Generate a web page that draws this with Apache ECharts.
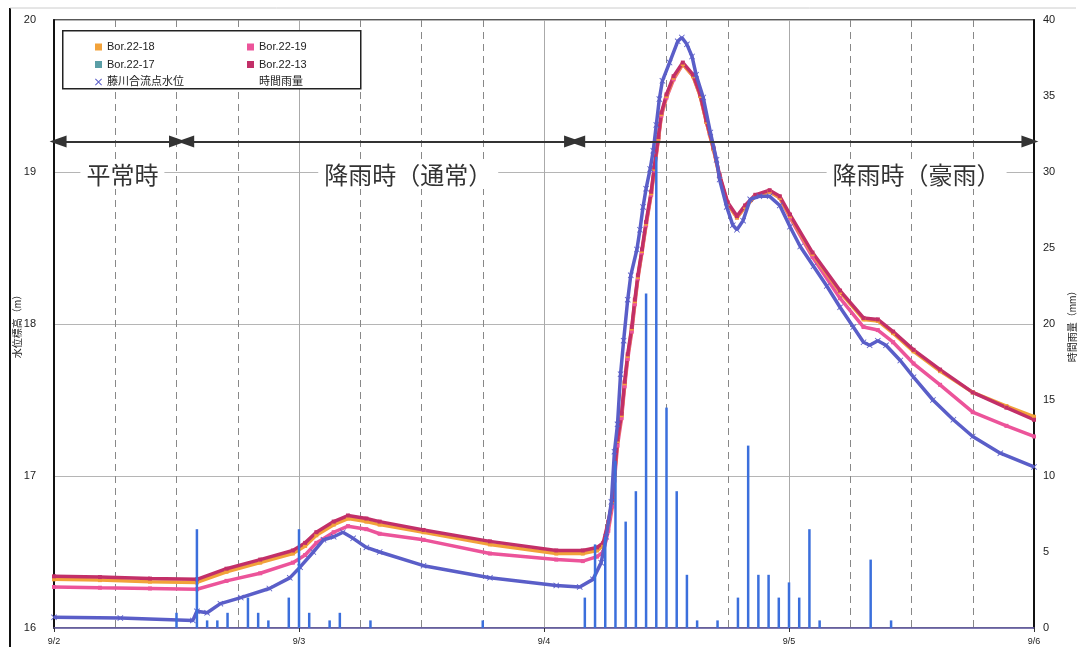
<!DOCTYPE html>
<html>
<head>
<meta charset="utf-8">
<script src="https://cdn.jsdelivr.net/npm/echarts@6/dist/echarts.min.js"></script>
<style>
  html, body { margin: 0; padding: 0; background: #fff; }
  #chart { width: 1080px; height: 647px; }
</style>
</head>
<body>
<div id="chart"></div>
<script>
  // 時刻は 9/2 0:00 からの経過時間 (h)
  const dateLabels = ['9/2', '9/3', '9/4', '9/5', '9/6']

  const borHours = [0, 4.5, 9.4, 14, 16.9, 20.2, 23.4, 24.6, 25.7, 27.4, 28.8, 30.6, 31.9, 36.2, 42.7,
    49.2, 51.8, 53.2, 53.8, 54.3, 54.7, 54.9, 55.2, 55.6, 55.9, 56.2, 56.6, 56.9, 57.2, 57.6,
    58.0, 58.5, 58.8, 59.2, 59.5, 60.0, 60.7, 61.6, 62.6, 63.3, 63.9, 64.6, 65.2, 66.0, 66.9,
    67.7, 68.7, 70.1, 71.1, 72.1, 74.3, 77.0, 79.3, 80.7, 82.2, 84.2, 86.8, 90.0, 93.3, 96]
  const bor13 = [16.34, 16.335, 16.325, 16.32, 16.39, 16.45, 16.51, 16.56, 16.63, 16.70, 16.74, 16.72, 16.70, 16.645, 16.57,
    16.51, 16.51, 16.53, 16.56, 16.70, 16.84, 17.01, 17.24, 17.41, 17.62, 17.80, 17.98, 18.16, 18.32, 18.49,
    18.67, 18.87, 19.03, 19.23, 19.39, 19.51, 19.63, 19.72, 19.64, 19.51, 19.34, 19.16, 18.98, 18.80, 18.71,
    18.78, 18.85, 18.88, 18.84, 18.72, 18.47, 18.22, 18.04, 18.03, 17.95, 17.83, 17.70, 17.55, 17.45, 17.37]
  const bor18 = [16.32, 16.315, 16.305, 16.30, 16.37, 16.43, 16.49, 16.54, 16.61, 16.68, 16.72, 16.70, 16.68, 16.63, 16.55,
    16.49, 16.49, 16.51, 16.54, 16.69, 16.83, 17.00, 17.23, 17.40, 17.61, 17.79, 17.97, 18.15, 18.31, 18.48,
    18.66, 18.86, 19.02, 19.22, 19.38, 19.50, 19.62, 19.71, 19.63, 19.50, 19.33, 19.15, 18.97, 18.79, 18.70,
    18.77, 18.84, 18.87, 18.83, 18.71, 18.46, 18.21, 18.03, 18.02, 17.94, 17.82, 17.69, 17.55, 17.46, 17.39]
  const bor19 = [16.27, 16.265, 16.26, 16.255, 16.31, 16.36, 16.43, 16.48, 16.56, 16.63, 16.67, 16.65, 16.62, 16.58, 16.49,
    16.45, 16.44, 16.47, 16.50, 16.64, 16.80, 16.97, 17.20, 17.38, 17.59, 17.77, 17.95, 18.13, 18.30, 18.47,
    18.65, 18.85, 19.01, 19.21, 19.37, 19.49, 19.61, 19.71, 19.63, 19.50, 19.33, 19.15, 18.97, 18.79, 18.70,
    18.77, 18.84, 18.87, 18.83, 18.70, 18.44, 18.17, 17.98, 17.96, 17.88, 17.74, 17.60, 17.42, 17.33, 17.26]
  const bor17 = []

  const fjHours = [0, 6.5, 13.6, 14.0, 15.0, 16.3, 18.3, 21.1, 23.1, 24.1, 25.4, 26.4, 27.4, 28.3, 29.3,
    30.6, 31.9, 36.2, 42.7, 49.2, 51.5, 52.8, 53.6, 54.1, 54.6, 54.9, 55.2, 55.5, 55.8, 56.2,
    56.5, 57.1, 57.4, 57.7, 58.0, 58.4, 58.7, 59.0, 59.3, 59.6, 60.3, 61.1, 61.5, 62.0, 62.5,
    62.9, 63.6, 64.3, 64.9, 65.2, 65.9, 66.5, 66.9, 67.5, 68.2, 69.1, 70.1, 71.1, 72.1, 73.1,
    74.4, 75.7, 77.0, 78.3, 79.3, 79.9, 80.7, 81.5, 82.9, 84.2, 86.1, 88.1, 90.0, 92.7, 96]
  const fjLevel = [16.07, 16.065, 16.05, 16.11, 16.10, 16.16, 16.20, 16.26, 16.33, 16.40, 16.50, 16.58, 16.60, 16.63, 16.59,
    16.53, 16.50, 16.41, 16.33, 16.28, 16.27, 16.32, 16.43, 16.60, 16.83, 17.16, 17.34, 17.67, 17.89, 18.16,
    18.32, 18.49, 18.62, 18.77, 18.89, 19.02, 19.14, 19.31, 19.48, 19.60, 19.72, 19.86, 19.885, 19.84, 19.76,
    19.64, 19.49, 19.26, 19.08, 18.95, 18.77, 18.65, 18.62, 18.68, 18.82, 18.84, 18.84, 18.78, 18.64, 18.51,
    18.38, 18.25, 18.11, 17.98, 17.88, 17.86, 17.89, 17.86, 17.76, 17.65, 17.50, 17.37, 17.26, 17.15, 17.06]

  const rainHours = [12, 14, 15, 16, 17, 19, 20, 21, 23, 24, 25, 27, 28, 31, 42,
    52, 53, 54, 55, 56, 57, 58, 59, 60, 61, 62, 63, 65, 67, 68, 69, 70, 71, 72, 73, 74, 75, 80, 82]
  const rainMm = [1, 6.5, 0.5, 0.5, 1, 2, 1, 0.5, 2, 6.5, 1, 0.5, 1, 0.5, 0.5,
    2, 5.5, 6, 11, 7, 9, 22, 31, 14.5, 9, 3.5, 0.5, 0.5, 2, 12, 3.5, 3.5, 2, 3, 2, 6.5, 0.5, 4.5, 0.5]

  // 期間の矢印と見出し
  const periodNames = ['平常時', '降雨時（通常）', '降雨時（豪雨）']
  const periodFrom = [0.4, 12.9, 51.2]
  const periodTo = [12.1, 50.8, 95.6]
  const periodMid = [6.7, 34.7, 84.5]
  const arrowLevel = 19.2
  const titleLevel = 18.98

  const FONT = "'Liberation Sans', 'Noto Sans CJK JP', sans-serif"
  const X_PATH = 'path://M0,1L1,0L5,4L9,0L10,1L6,5L10,9L9,10L5,6L1,10L0,9L4,5Z'
  const colors = {
    b18: '#f2a23a',
    b19: '#ec549a',
    b17: '#5a9ea6',
    b13: '#c22f68',
    fj: '#5a5ec8',
    rain: '#3b6fdc'
  }

  const pairs = (xs, ys) => xs.map((x, i) => [x, ys[i]])

  const myChart = echarts.init(document.getElementById('chart'))

  const borSeries = (name, vals, color) => {
    return {
      name: name,
      type: 'line',
      data: pairs(borHours, vals),
      symbol: 'rect',
      symbolSize: 4,
      showSymbol: true,
      lineStyle: { color: color, width: 3.5 },
      itemStyle: { color: color },
      z: 3
    }
  }

  const options = {
    animation: false,
    textStyle: { fontFamily: FONT },
    grid: {
      left: 54,
      right: 46,
      top: 20,
      bottom: 19,
      outerBoundsMode: 'none',
      containLabel: false,
      show: true,
      borderColor: '#222',
      borderWidth: 1.5
    },
    legend: [
      {
        orient: 'vertical',
        left: 90,
        top: 35,
        itemGap: 3.5,
        itemWidth: 7,
        itemHeight: 7,
        textStyle: { fontSize: 11, color: '#222', lineHeight: 14 },
        data: [
          { name: 'Bor.22-18', icon: 'rect', itemStyle: { color: colors.b18 } },
          { name: 'Bor.22-17', icon: 'rect', itemStyle: { color: colors.b17 } },
          { name: '藤川合流点水位', icon: X_PATH, itemStyle: { color: colors.fj } }
        ]
      },
      {
        orient: 'vertical',
        left: 242,
        top: 35,
        itemGap: 3.5,
        itemWidth: 7,
        itemHeight: 7,
        textStyle: { fontSize: 11, color: '#222', lineHeight: 14 },
        data: [
          { name: 'Bor.22-19', icon: 'rect', itemStyle: { color: colors.b19 } },
          { name: 'Bor.22-13', icon: 'rect', itemStyle: { color: colors.b13 } },
          { name: '時間雨量', icon: 'rect', itemStyle: { opacity: 0 } }
        ]
      }
    ],
    graphic: [
      {
        type: 'rect',
        left: 62,
        top: 30,
        z: 3,
        shape: { width: 298, height: 58 },
        style: { fill: '#fff', stroke: '#222', lineWidth: 1.5 }
      },
      {
        type: 'line',
        shape: { x1: 10, y1: 8, x2: 10, y2: 647 },
        style: { stroke: '#111', lineWidth: 2 }
      },
      {
        type: 'line',
        shape: { x1: 10, y1: 8, x2: 1076, y2: 8 },
        style: { stroke: '#ccc', lineWidth: 1 }
      }
    ],
    xAxis: {
      type: 'value',
      min: 0,
      max: 96,
      interval: 24,
      axisLine: { show: true, lineStyle: { color: '#6c64b0', width: 1.5 } },
      axisTick: { show: true, length: 4, lineStyle: { color: '#333' } },
      axisLabel: {
        fontSize: 9,
        color: '#222',
        margin: 9,
        formatter: v => dateLabels[Math.round(v / 24)]
      },
      splitLine: { show: true, lineStyle: { color: '#aaa', width: 1 } },
      minorTick: { show: false, splitNumber: 4 },
      minorSplitLine: { show: true, lineStyle: { color: '#888', type: [7, 5], width: 1 } }
    },
    yAxis: [
      {
        type: 'value',
        min: 16,
        max: 20,
        interval: 1,
        name: '水位標高（m）',
        nameLocation: 'middle',
        nameGap: 31,
        nameMoveOverlap: false,
        nameTextStyle: { fontSize: 10, color: '#222' },
        axisLine: { show: true, lineStyle: { color: '#111', width: 2 } },
        axisTick: { show: false },
        axisLabel: { fontSize: 11, color: '#222', margin: 18 },
        splitLine: { show: true, lineStyle: { color: '#b5b5b5', width: 1 } }
      },
      {
        type: 'value',
        min: 0,
        max: 40,
        interval: 5,
        name: '時間雨量（mm）',
        nameLocation: 'middle',
        nameRotate: 90,
        nameGap: 34,
        nameMoveOverlap: false,
        nameTextStyle: { fontSize: 10, color: '#222' },
        axisLine: { show: true, lineStyle: { color: '#111', width: 2 } },
        axisTick: { show: false },
        axisLabel: { fontSize: 11, color: '#222', margin: 9 },
        splitLine: { show: false }
      }
    ],
    series: [
      borSeries('Bor.22-19', bor19, colors.b19),
      borSeries('Bor.22-18', bor18, colors.b18),
      borSeries('Bor.22-13', bor13, colors.b13),
      borSeries('Bor.22-17', bor17, colors.b17),
      {
        name: '藤川合流点水位',
        type: 'line',
        data: pairs(fjHours, fjLevel),
        symbol: X_PATH,
        symbolSize: 6,
        showSymbol: true,
        lineStyle: { color: colors.fj, width: 3.5 },
        itemStyle: { color: colors.fj },
        z: 4,
        markLine: {
          silent: true,
          symbol: ['triangle', 'triangle'],
          symbolSize: [12, 17],
          lineStyle: { color: '#333', width: 2, type: 'solid' },
          itemStyle: { color: '#333' },
          label: { show: false },
          data: periodNames.map((n, i) => [
            { coord: [periodFrom[i], arrowLevel] },
            { coord: [periodTo[i], arrowLevel] }
          ])
        },
        markPoint: {
          silent: true,
          symbol: 'rect',
          symbolSize: [2, 2],
          itemStyle: { color: 'rgba(0,0,0,0)' },
          label: {
            show: true,
            position: 'inside',
            fontSize: 24,
            color: '#333',
            backgroundColor: '#fff',
            padding: [2, 6],
            fontFamily: "'Noto Sans CJK JP', sans-serif",
            formatter: p => p.name
          },
          data: periodNames.map((n, i) => ({ name: n, coord: [periodMid[i], titleLevel] }))
        }
      },
      {
        name: '時間雨量',
        type: 'bar',
        yAxisIndex: 1,
        barWidth: 2.5,
        data: pairs(rainHours, rainMm),
        itemStyle: { color: colors.rain },
        z: 5
      }
    ]
  }

  myChart.setOption(options)
  window.addEventListener('resize', () => myChart.resize())
</script>
</body>
</html>
